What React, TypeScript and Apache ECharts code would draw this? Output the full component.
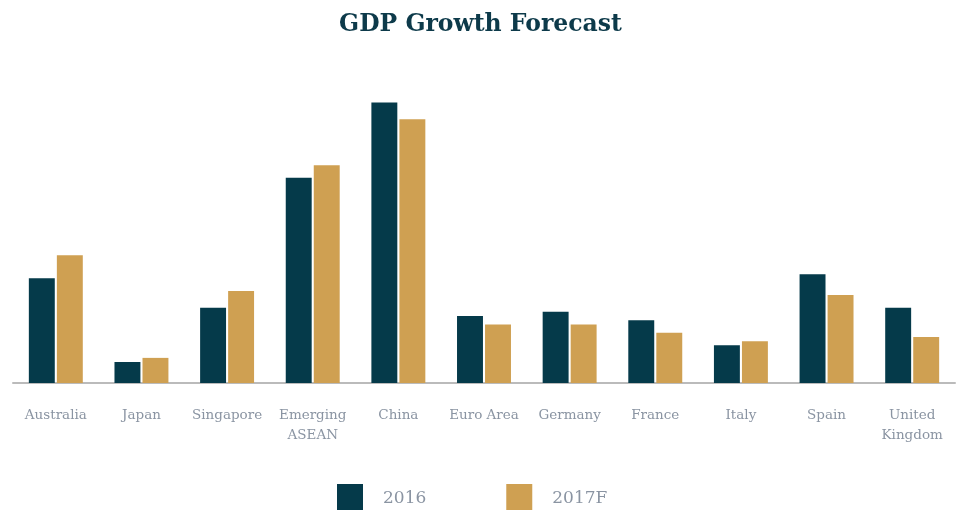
import React, { useEffect, useRef } from "react";
import * as echarts from "echarts";

const categories = ["Australia", "Japan", "Singapore", "Emerging\nASEAN", "China", "Euro Area", "Germany", "France", "Italy", "Spain", "United\nKingdom"];
const series2016 = [2.5, 0.5, 1.8, 4.9, 6.7, 1.6, 1.7, 1.5, 0.9, 2.6, 1.8];
const series2017F = [3.05, 0.6, 2.2, 5.2, 6.3, 1.4, 1.4, 1.2, 1.0, 2.1, 1.1];
const seriesNames = ["2016", "2017F"];

const FONT = "'DejaVu Serif', 'Liberation Serif', serif";

export default function App() {
  const ref = useRef<HTMLDivElement>(null);
  useEffect(() => {
    if (!ref.current) return;
    const chart = echarts.init(ref.current, undefined, { renderer: "svg" });
    chart.setOption({
      animation: false,
      color: ["#053a4a", "#cfa052"],
      title: {
        text: "GDP Growth Forecast",
        left: "center",
        top: 6,
        textStyle: { fontFamily: FONT, fontSize: 23.5, fontWeight: "bold", color: "#0d3a4a" },
      },
      legend: {
        bottom: 4,
        left: 337,
        padding: 0,
        itemWidth: 26,
        itemHeight: 26,
        itemGap: 80,
        icon: "rect",
        textStyle: { fontFamily: FONT, fontSize: 17, color: "#8a94a2", padding: [5, 0, 0, 15] },
        data: seriesNames,
      },
      grid: { left: 13, right: 6, top: 48, bottom: 131, containLabel: false },
      xAxis: {
        type: "category",
        data: categories,
        axisLine: { lineStyle: { color: "#bbbbbb", width: 2 } },
        axisTick: { show: false },
        axisLabel: { fontFamily: FONT, fontSize: 13.5, color: "#8a94a2", margin: 21, lineHeight: 20, interval: 0 },
      },
      yAxis: { type: "value", min: 0, max: 8, show: false, splitLine: { show: false } },
      series: [
        { name: seriesNames[0], type: "bar", data: series2016, barGap: "8%", barCategoryGap: "37%" },
        { name: seriesNames[1], type: "bar", data: series2017F, barGap: "8%", barCategoryGap: "37%" },
      ],
    });
    return () => chart.dispose();
  }, []);
  return <div ref={ref} style={{ position: "fixed", left: 0, top: 0, width: 961, height: 514 }} />;
}
